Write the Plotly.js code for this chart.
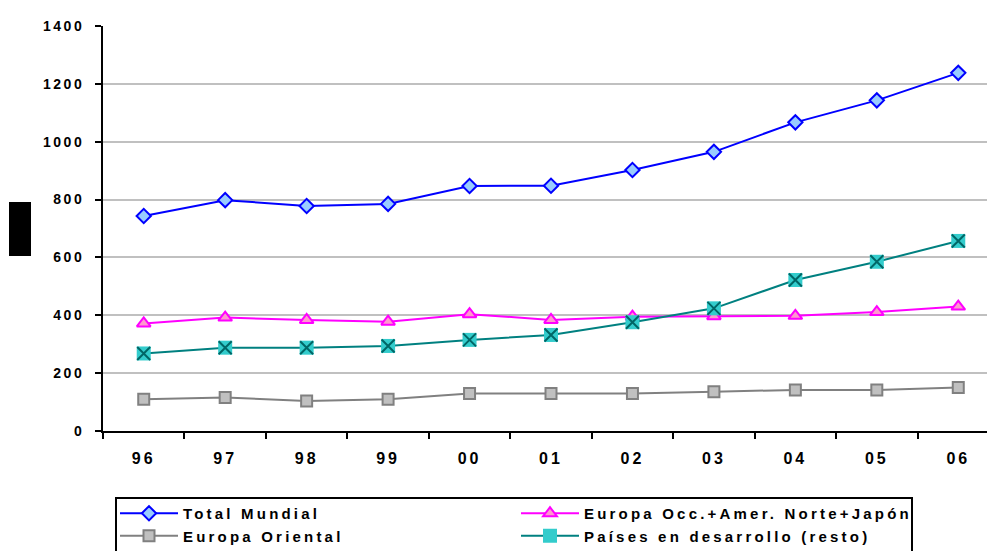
<!DOCTYPE html>
<html>
<head>
<meta charset="utf-8">
<script src="https://cdn.plot.ly/plotly-3.0.1.min.js"></script>
<style>
html,body{margin:0;padding:0;overflow:hidden;background:#fff;}
#chart{width:1000px;height:551px;}
#chart .ytick text{letter-spacing:2.5px;}
#chart .xtick text{letter-spacing:3px;}
#chart text.legendtext, #chart text.legend2text{letter-spacing:3.2px !important;}
#chart g.scrollbox{clip-path:none !important;}
</style>
</head>
<body>
<div id="chart"></div>
<script>
const years = ['96','97','98','99','00','01','02','03','04','05','06'];
const totalMundial = [743, 798, 778, 785, 847, 848, 902, 965, 1067, 1143, 1238];
const europaOccAmerJapon = [372, 392, 384, 378, 404, 384, 395, 397, 398, 411, 430];
const europaOriental = [110, 116, 104, 110, 130, 130, 130, 136, 142, 142, 150];
const paisesDesarrollo = [268, 288, 288, 294, 315, 332, 376, 424, 522, 585, 657];
const yTicks = [0, 200, 400, 600, 800, 1000, 1200, 1400];

const W = 1000, H = 551;
const M = {l: 103, r: 1, t: 26, b: 120, autoexpand: false};
const pw = W - M.l - M.r, ph = H - M.t - M.b;
const px2x = p => (p - M.l) / pw;
const px2y = p => (H - M.b - p) / ph;

const font = 'Liberation Sans, Arial, sans-serif';

const traces = [
  {
    x: years, y: totalMundial, name: 'Total Mundial', type: 'scatter', mode: 'lines+markers',
    legend: 'legend', showlegend: true,
    line: {color: '#0000ff', width: 2},
    marker: {symbol: 'diamond', size: 11, color: '#99ccff', line: {color: '#0000ff', width: 2}}
  },
  {
    x: years, y: europaOccAmerJapon, name: 'Europa Occ.+Amer. Norte+Japón', type: 'scatter', mode: 'lines+markers',
    legend: 'legend2', showlegend: true,
    line: {color: '#ff00ff', width: 2},
    marker: {symbol: 'triangle-up', size: 12, color: '#ff99cc', line: {color: '#ff00ff', width: 2}}
  },
  {
    x: years, y: europaOriental, name: 'Europa Oriental', type: 'scatter', mode: 'lines+markers',
    legend: 'legend', showlegend: true,
    line: {color: '#808080', width: 2},
    marker: {symbol: 'square', size: 11, color: '#c0c0c0', line: {color: '#808080', width: 2}}
  },
  {
    x: years, y: paisesDesarrollo, name: 'Países en desarrollo (resto)', type: 'scatter', mode: 'lines+markers',
    legend: 'legend2', showlegend: true,
    line: {color: '#008080', width: 2},
    marker: {symbol: 'square', size: 14, color: '#33cccc', line: {width: 0}}
  },
  {
    x: years, y: paisesDesarrollo, name: 'Países en desarrollo (resto)', type: 'scatter', mode: 'markers',
    showlegend: false, hoverinfo: 'skip',
    marker: {symbol: 'x-thin-open', size: 13, color: '#006666', line: {color: '#006666', width: 2}}
  }
];

const legendCommon = {
  orientation: 'v',
  xanchor: 'left', yanchor: 'top',
  y: px2y(497),
  itemwidth: 58,
  borderwidth: 0,
  bgcolor: 'rgba(0,0,0,0)',
  font: {family: font, size: 15, weight: 'bold', color: '#000000'},
  tracegroupgap: 0
};

const layout = {
  width: W, height: H,
  margin: M,
  paper_bgcolor: '#ffffff', plot_bgcolor: '#ffffff',
  font: {family: font, size: 14, color: '#000000'},
  showlegend: true,
  xaxis: {
    type: 'category', range: [-0.5, 10.5],
    showgrid: false, showline: true, linecolor: '#000000', linewidth: 2,
    ticks: 'outside', ticklen: 6, tickwidth: 2, tickcolor: '#000000', tickson: 'boundaries',
    tickfont: {family: font, size: 16, weight: 'bold'},
    ticklabelstandoff: 12,
    zeroline: false, fixedrange: true
  },
  yaxis: {
    range: [0, 1400], tickvals: yTicks, ticktext: yTicks.map(String),
    showgrid: true, gridcolor: '#c0c0c0', gridwidth: 2,
    showline: true, linecolor: '#000000', linewidth: 2,
    ticks: 'outside', ticklen: 6, tickwidth: 2, tickcolor: '#000000',
    tickfont: {family: font, size: 14, weight: 'bold'},
    ticklabelstandoff: 8,
    zeroline: false, fixedrange: true
  },
  legend: Object.assign({}, legendCommon, {x: px2x(115)}),
  legend2: Object.assign({}, legendCommon, {x: px2x(516)}),
  shapes: [
    {type: 'rect', xref: 'paper', yref: 'paper',
     x0: px2x(9), x1: px2x(31), y0: px2y(256), y1: px2y(202),
     fillcolor: '#000000', line: {width: 0}},
    {type: 'rect', xref: 'paper', yref: 'paper',
     x0: px2x(116), x1: px2x(912), y0: px2y(565), y1: px2y(498),
     fillcolor: 'rgba(0,0,0,0)', line: {color: '#000000', width: 2}}
  ]
};

Plotly.newPlot('chart', traces, layout, {displayModeBar: false, staticPlot: true});
</script>
</body>
</html>
